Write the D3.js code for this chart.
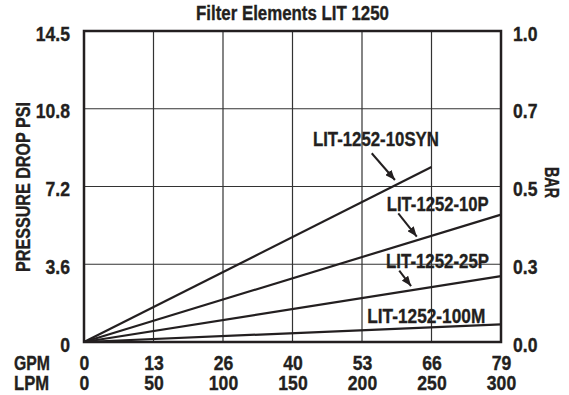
<!DOCTYPE html>
<html>
<head>
<meta charset="utf-8">
<script src="https://cdn.jsdelivr.net/npm/d3@7"></script>
<style>
  body { margin: 0; background: #fff; }
  text {
    font-family: 'Liberation Sans', Arial, Helvetica, sans-serif;
    font-weight: bold;
    fill: #231f20;
    stroke: #231f20;
    stroke-width: 0.35px;
  }
</style>
</head>
<body>
<svg id="chart" width="569" height="395"></svg>
<script>
// Flow axis (litres per minute) and its matching US gallons-per-minute labels
const lpmTicks = [0, 50, 100, 150, 200, 250, 300];
const lpmLabels = ["0", "50", "100", "150", "200", "250", "300"];
const gpmLabels = ["0", "13", "26", "40", "53", "66", "79"];

// Pressure axis (psi) with its bar equivalents on the right
const psiTicks = [0, 3.6, 7.2, 10.8, 14.4];
const psiLabels = ["0", "3.6", "7.2", "10.8", "14.5"];
const barLabels = ["0.0", "0.3", "0.5", "0.7", "1.0"];

// Pressure drop of each element versus flow
const seriesNames = ["LIT-1252-10SYN", "LIT-1252-10P", "LIT-1252-25P", "LIT-1252-100M"];
const flow10SYN = [0, 250];
const psi10SYN  = [0, 8.1];
const flow10P   = [0, 300];
const psi10P    = [0, 5.9];
const flow25P   = [0, 300];
const psi25P    = [0, 3.05];
const flow100M  = [0, 300];
const psi100M   = [0, 0.82];

const series = [
  { name: seriesNames[0], flow: flow10SYN, psi: psi10SYN },
  { name: seriesNames[1], flow: flow10P,   psi: psi10P },
  { name: seriesNames[2], flow: flow25P,   psi: psi25P },
  { name: seriesNames[3], flow: flow100M,  psi: psi100M }
];

// Label placement in data units (lpm, psi); arrow runs from -> to
const labelLayout = [
  { text: seriesNames[0], at: [164.7, 9.09], width: 126, arrow: { from: [207, 8.74], to: [223.7, 7.5] } },
  { text: seriesNames[1], at: [217.8, 6.08], width: 102, arrow: { from: [226.1, 5.96], to: [239.4, 4.88] } },
  { text: seriesNames[2], at: [217.3, 3.41], width: 103, arrow: { from: [226.8, 3.30], to: [235.3, 2.59] } },
  { text: seriesNames[3], at: [203.8, 0.89], width: 118, arrow: null }
];

const plot = { left: 84, right: 501, top: 31, bottom: 342 };
const ink = "#231f20";
const fontSize = 20;
const squeeze = 0.88;   // condensed lettering

const svg = d3.select("#chart");

const x = d3.scaleLinear().domain([0, 300]).range([plot.left, plot.right]);
const y = d3.scaleLinear().domain([0, 14.4]).range([plot.bottom, plot.top]);

// Narrow every text in a selection to a fraction of its natural width
function condense(sel, factor) {
  sel.each(function () {
    const w = this.getComputedTextLength();
    d3.select(this).attr("textLength", w * factor).attr("lengthAdjust", "spacingAndGlyphs");
  });
}

// Grid
const grid = svg.append("g").attr("stroke", "#333").attr("stroke-width", 1.2);
grid.selectAll("line.v").data(lpmTicks.slice(1, -1)).join("line")
  .attr("class", "v")
  .attr("x1", d => x(d)).attr("x2", d => x(d))
  .attr("y1", plot.top).attr("y2", plot.bottom);
grid.selectAll("line.h").data(psiTicks.slice(1, -1)).join("line")
  .attr("class", "h")
  .attr("x1", plot.left).attr("x2", plot.right)
  .attr("y1", d => y(d)).attr("y2", d => y(d));

// Axes (labels only; frame drawn separately)
function styleAxis(g) {
  g.select(".domain").remove();
  g.selectAll(".tick line").remove();
  g.selectAll("text")
    .attr("font-size", fontSize)
    .attr("font-family", null)
    .attr("fill", ink)
    .call(condense, squeeze);
}

svg.append("g")
  .attr("transform", `translate(${plot.left},0)`)
  .call(d3.axisLeft(y).tickValues(psiTicks).tickSize(0).tickPadding(14)
    .tickFormat((d, i) => psiLabels[i]))
  .call(styleAxis)
  .selectAll("text").attr("dy", "0.45em");

svg.append("g")
  .attr("transform", `translate(${plot.right},0)`)
  .call(d3.axisRight(y).tickValues(psiTicks).tickSize(0).tickPadding(12)
    .tickFormat((d, i) => barLabels[i]))
  .call(styleAxis)
  .selectAll("text").attr("dy", "0.45em");

svg.append("g")
  .attr("transform", `translate(0,${plot.bottom})`)
  .call(d3.axisBottom(x).tickValues(lpmTicks).tickSize(0).tickPadding(13.8)
    .tickFormat((d, i) => gpmLabels[i]))
  .call(styleAxis);

svg.append("g")
  .attr("transform", `translate(0,${plot.bottom})`)
  .call(d3.axisBottom(x).tickValues(lpmTicks).tickSize(0).tickPadding(33.8)
    .tickFormat((d, i) => lpmLabels[i]))
  .call(styleAxis);

// Frame
svg.append("rect")
  .attr("x", plot.left).attr("y", plot.top)
  .attr("width", plot.right - plot.left).attr("height", plot.bottom - plot.top)
  .attr("fill", "none").attr("stroke", ink).attr("stroke-width", 2.5);

// Series lines
const line = d3.line().x(d => x(d[0])).y(d => y(d[1]));
svg.append("g").selectAll("path").data(series).join("path")
  .attr("d", s => line(d3.zip(s.flow, s.psi)))
  .attr("fill", "none")
  .attr("stroke", ink)
  .attr("stroke-width", 2.2);

// Arrowhead
svg.append("defs").append("marker")
  .attr("id", "arrow")
  .attr("markerUnits", "userSpaceOnUse")
  .attr("viewBox", "0 0 10 8")
  .attr("refX", 10).attr("refY", 4)
  .attr("markerWidth", 10).attr("markerHeight", 8)
  .attr("orient", "auto")
  .append("path").attr("d", "M0,0 L10,4 L0,8 Z").attr("fill", ink);

// Series labels and pointers
const ann = svg.append("g");
labelLayout.forEach(l => {
  ann.append("text")
    .attr("x", x(l.at[0])).attr("y", y(l.at[1]))
    .attr("font-size", fontSize)
    .attr("textLength", l.width).attr("lengthAdjust", "spacingAndGlyphs")
    .text(l.text);
  if (l.arrow) {
    ann.append("line")
      .attr("x1", x(l.arrow.from[0])).attr("y1", y(l.arrow.from[1]))
      .attr("x2", x(l.arrow.to[0])).attr("y2", y(l.arrow.to[1]))
      .attr("stroke", ink).attr("stroke-width", 2)
      .attr("marker-end", "url(#arrow)");
  }
});

// Titles
svg.append("text")
  .attr("x", (plot.left + plot.right) / 2).attr("y", 20)
  .attr("text-anchor", "middle").attr("font-size", fontSize)
  .attr("textLength", 193).attr("lengthAdjust", "spacingAndGlyphs")
  .text("Filter Elements LIT 1250");

svg.append("text")
  .attr("transform", "translate(30,187) rotate(-90)")
  .attr("text-anchor", "middle").attr("font-size", fontSize)
  .attr("textLength", 170).attr("lengthAdjust", "spacingAndGlyphs")
  .text("PRESSURE DROP PSI");

svg.append("text")
  .attr("transform", "translate(545,182.5) rotate(90)")
  .attr("text-anchor", "middle").attr("font-size", fontSize)
  .attr("textLength", 31).attr("lengthAdjust", "spacingAndGlyphs")
  .text("BAR");

svg.append("text")
  .attr("x", 14).attr("y", 370).attr("font-size", fontSize)
  .attr("textLength", 36).attr("lengthAdjust", "spacingAndGlyphs")
  .text("GPM");

svg.append("text")
  .attr("x", 14).attr("y", 390).attr("font-size", fontSize)
  .attr("textLength", 35).attr("lengthAdjust", "spacingAndGlyphs")
  .text("LPM");
</script>
</body>
</html>
